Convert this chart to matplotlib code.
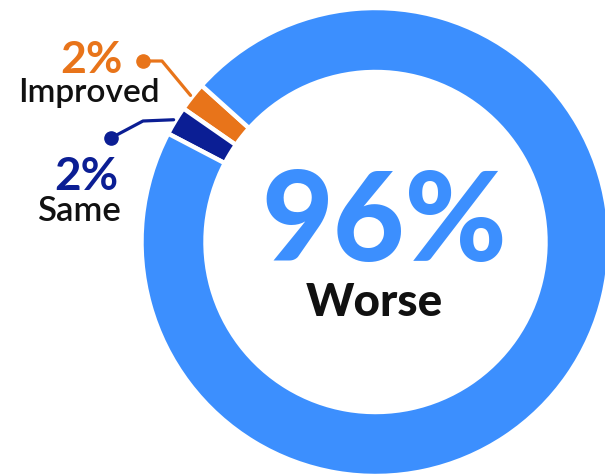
import numpy as np
import matplotlib
matplotlib.use("Agg")
import matplotlib.pyplot as plt

# shares of responses
labels = ["Improved", "Same", "Worse"]
shares = [2, 2, 96]
colors = ["#E8741A", "#0B1E94", "#3C8FFE"]
start_deg = 138

W, H = 605, 474
cx, cy = 375.5, H - 242
r_out, r_in = 234, 170

fig = plt.figure(figsize=(W / 100, H / 100), dpi=100)
ax = fig.add_axes([0, 0, 1, 1])

wedges, _ = ax.pie(
    shares,
    colors=colors,
    startangle=start_deg,
    counterclock=True,
    center=(cx, cy),
    radius=r_out,
    frame=True,
    wedgeprops=dict(width=r_out - r_in, edgecolor="white", linewidth=3.2),
)
ax.set_xlim(0, W)
ax.set_ylim(0, H)
ax.set_aspect("equal")
ax.axis("off")

# leader lines: wedge mid-angle -> elbow -> dot
elbows = [(162, H - 61), (143, H - 121)]
dots = [(143, H - 61), (111, H - 138)]
for w, c, elb, dot in zip(wedges[:2], colors[:2], elbows, dots):
    mid = np.deg2rad((w.theta1 + w.theta2) / 2)
    x0 = cx + (r_out + 2) * np.cos(mid)
    y0 = cy + (r_out + 2) * np.sin(mid)
    ax.plot([x0, elb[0], dot[0]], [y0, elb[1], dot[1]], color=c, lw=2.3,
            solid_capstyle="round", solid_joinstyle="round", zorder=3)
    ax.plot(dot[0], dot[1], "o", color=c, ms=9.5, zorder=4)

font = "Lato"
pct = [f"{s}%" for s in shares]

# side labels
ax.text(91.5, H - 72.5, pct[0], color=colors[0], fontsize=32, fontweight="bold",
        family=font, ha="center", va="baseline")
ax.text(89, H - 101.5, labels[0], color="#111111", fontsize=24,
        fontweight="semibold", family=font, ha="center", va="baseline")
ax.text(86.5, H - 190, pct[1], color=colors[1], fontsize=33, fontweight="bold",
        family=font, ha="center", va="baseline")
ax.text(79, H - 221, labels[1], color="#111111", fontsize=25,
        fontweight="semibold", family=font, ha="center", va="baseline")

# centre label
ax.text(384, H - 261, pct[2], color=colors[2], fontsize=89, fontweight="black",
        family=font, ha="center", va="baseline")
ax.text(374.5, H - 316, labels[2], color="#111111", fontsize=33,
        fontweight="black", family=font, ha="center", va="baseline")

fig.savefig("out.png", dpi=100)
